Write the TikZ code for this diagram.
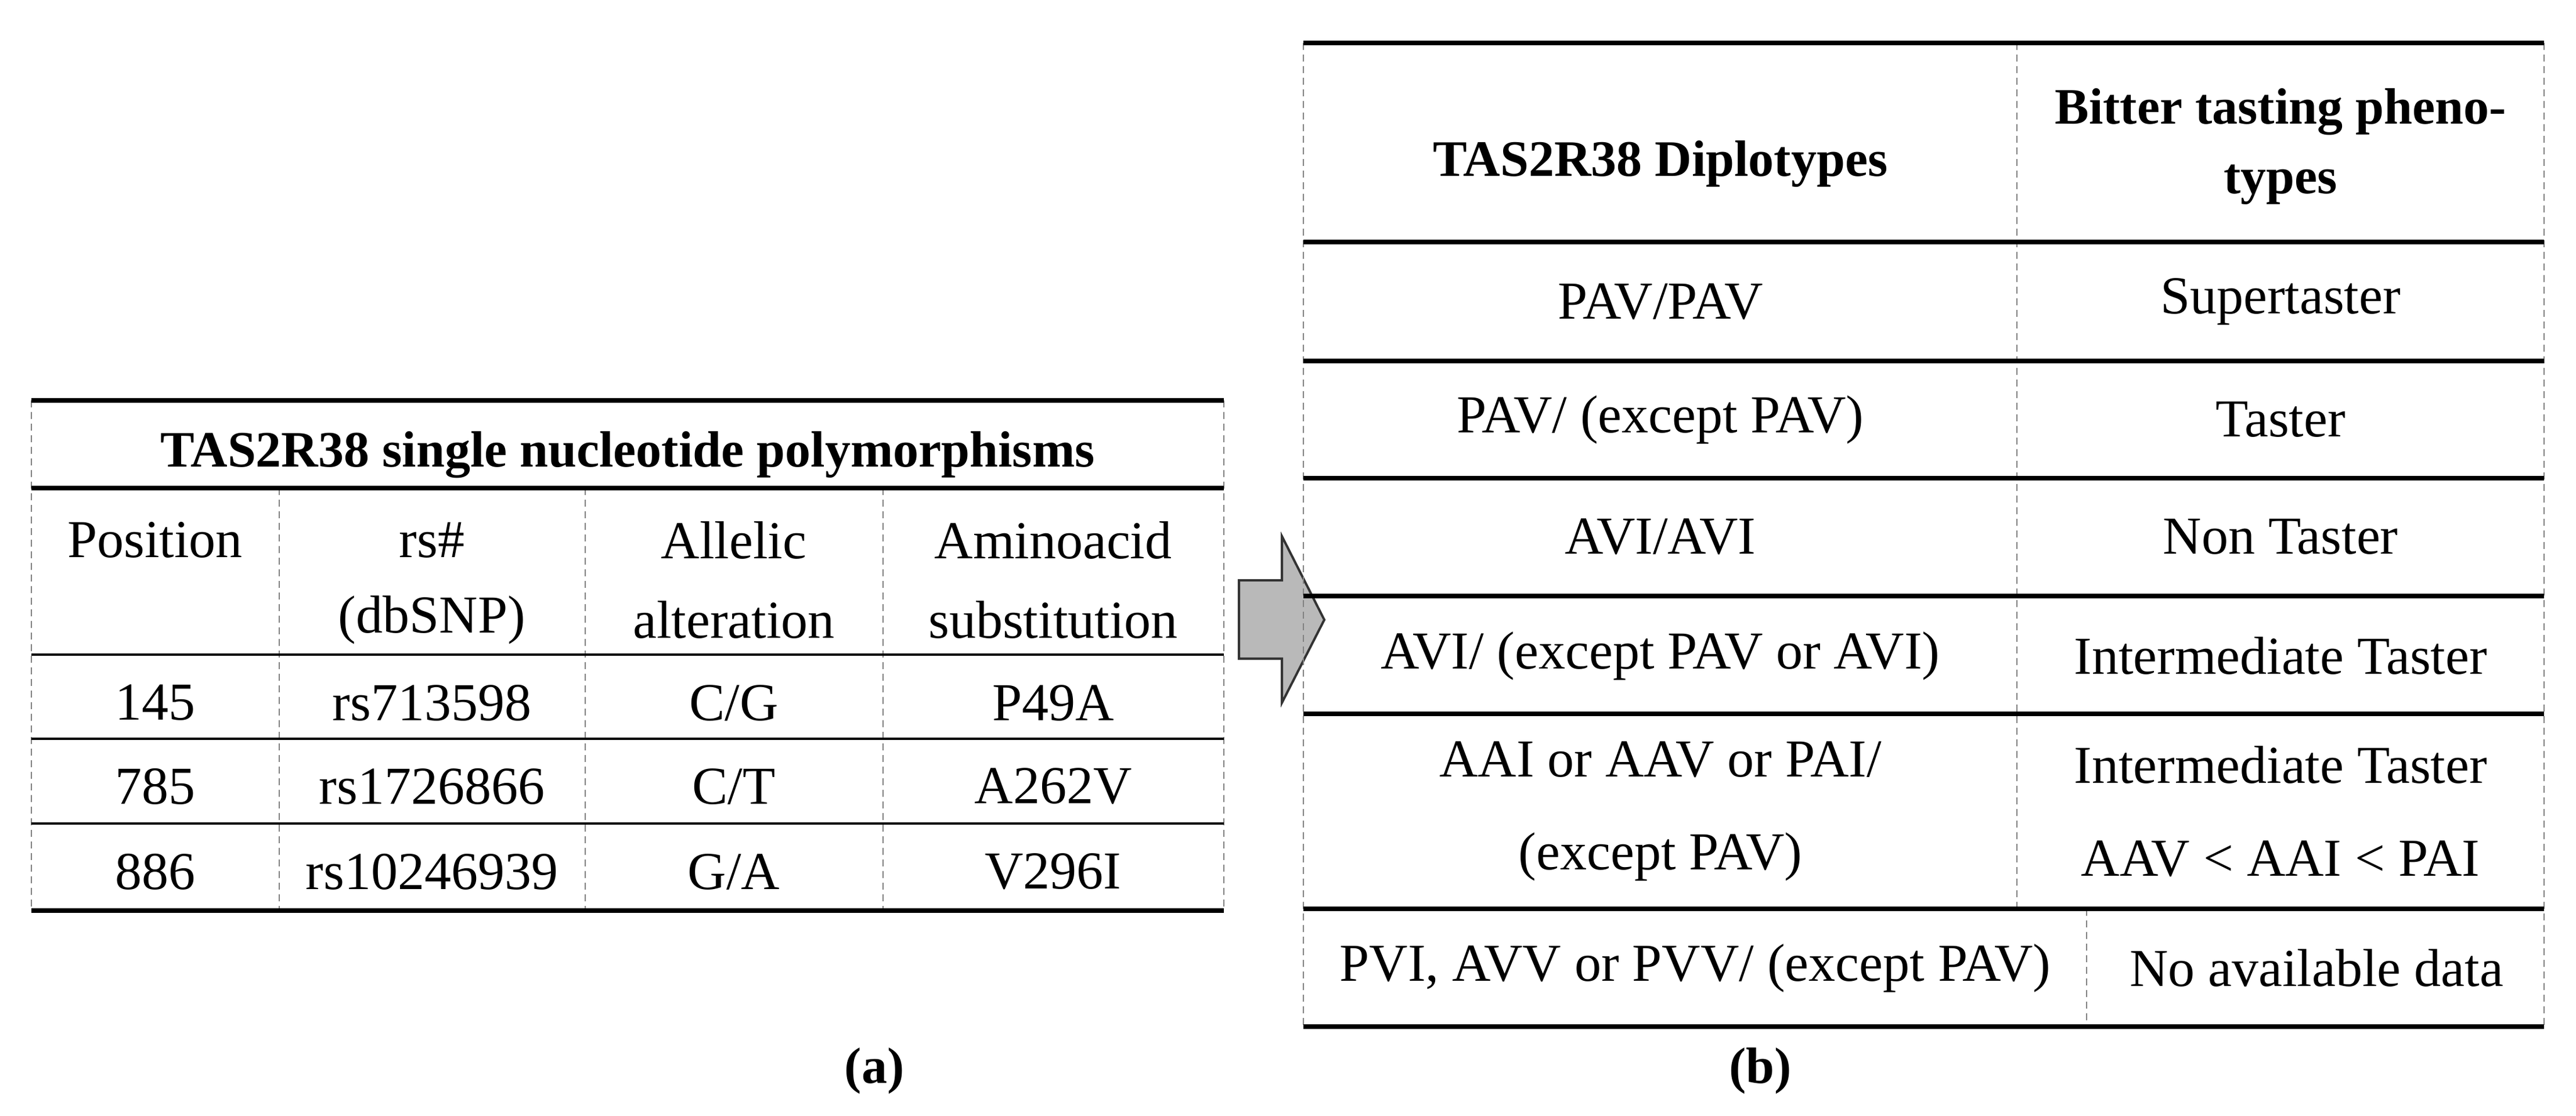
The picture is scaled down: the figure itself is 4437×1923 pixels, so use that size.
\documentclass[tikz,border=0pt]{standalone}
\usepackage{fontspec}
\setmainfont{Liberation Serif}
\begin{document}
\begin{tikzpicture}[x=0.25pt,y=-0.25pt,
  rule/.style={line width=2pt,black},
  thinrule/.style={line width=0.8pt,black},
  dashline/.style={line width=0.5pt,gray,dash pattern=on 3pt off 2pt},
  txt/.style={font=\fontsize{23}{28}\selectfont,align=center,inner sep=0pt},
  btxt/.style={txt,font=\fontsize{22}{30}\selectfont\bfseries}]
\useasboundingbox (0,0) rectangle (4437,1923);
% ---- table (a)
\foreach \x in {54,2108} \draw[dashline] (\x,690) -- (\x,1569);
\foreach \x in {481,1008,1521} \draw[dashline] (\x,841) -- (\x,1569);
\draw[rule] (54,690) -- (2108,690);
\draw[rule] (54,841) -- (2108,841);
\foreach \y in {1128,1273,1419} \draw[thinrule] (54,\y) -- (2108,\y);
\draw[rule] (54,1569) -- (2108,1569);
\node[btxt] (ta) at (1081,784) {TAS2R38 single nucleotide polymorphisms};
\node[txt] (h1) at (267,931) {Position};
\node[txt] (h2a) at (744,931) {rs\#};
\node[txt] (h2b) at (744,1068) {(dbSNP)};
\node[txt] (h3a) at (1264,931) {Allelic};
\node[txt] (h3b) at (1264,1068) {alteration};
\node[txt] (h4a) at (1814,931) {Aminoacid};
\node[txt] (h4b) at (1814,1068) {substitution};
\node[txt] (a11) at (267,1211) {145};
\node[txt] (a12) at (744,1211) {rs713598};
\node[txt] (a13) at (1264,1211) {C/G};
\node[txt] (a14) at (1814,1211) {P49A};
\node[txt] (a21) at (267,1355) {785};
\node[txt] (a22) at (744,1355) {rs1726866};
\node[txt] (a23) at (1264,1355) {C/T};
\node[txt] (a24) at (1814,1355) {A262V};
\node[txt] (a31) at (267,1502) {886};
\node[txt] (a32) at (744,1502) {rs10246939};
\node[txt] (a33) at (1264,1502) {G/A};
\node[txt] (a34) at (1814,1502) {V296I};
\node[btxt] (capa) at (1506,1845) {(a)};
% ---- arrow
\draw[fill=gray!55,draw=gray!40!black,line width=1pt]
  (2134,1000) -- (2208,1000) -- (2208,924) -- (2281,1068) -- (2208,1211)
  -- (2208,1135) -- (2134,1135) -- cycle;
% ---- table (b)
\foreach \x in {2245,4382} \draw[dashline] (\x,74) -- (\x,1769);
\draw[dashline] (3474,74) -- (3474,1566);
\draw[dashline] (3594,1566) -- (3594,1769);
\draw[rule] (2245,74) -- (4382,74);
\foreach \y in {417,622,824,1027,1230,1566} \draw[rule] (2245,\y) -- (4382,\y);
\draw[rule] (2245,1769) -- (4382,1769);
\node[btxt] (bh1) at (2860,282) {TAS2R38 Diplotypes};
\node[btxt] (bh2) at (3928,252) {Bitter tasting pheno-\\types};
\node[txt] (b11) at (2860,520) {PAV/PAV};
\node[txt] (b12) at (3928,520) {Supertaster};
\node[txt] (b21) at (2860,723) {PAV/ (except PAV)};
\node[txt] (b22) at (3928,723) {Taster};
\node[txt] (b31) at (2860,925) {AVI/AVI};
\node[txt] (b32) at (3928,925) {Non Taster};
\node[txt] (b41) at (2860,1130) {AVI/ (except PAV or AVI)};
\node[txt] (b42) at (3928,1130) {Intermediate Taster};
\node[txt,font=\fontsize{23}{40}\selectfont] (b51) at (2860,1398) {AAI or AAV or PAI/\\(except PAV)};
\node[txt,font=\fontsize{23}{40}\selectfont] (b52) at (3928,1398) {Intermediate Taster\\AAV < AAI < PAI};
\node[txt] (b61) at (2920,1668) {PVI, AVV or PVV/ (except PAV)};
\node[txt] (b62) at (3990,1668) {No available data};
\node[btxt] (capb) at (3032,1845) {(b)};
\end{tikzpicture}
\end{document}
